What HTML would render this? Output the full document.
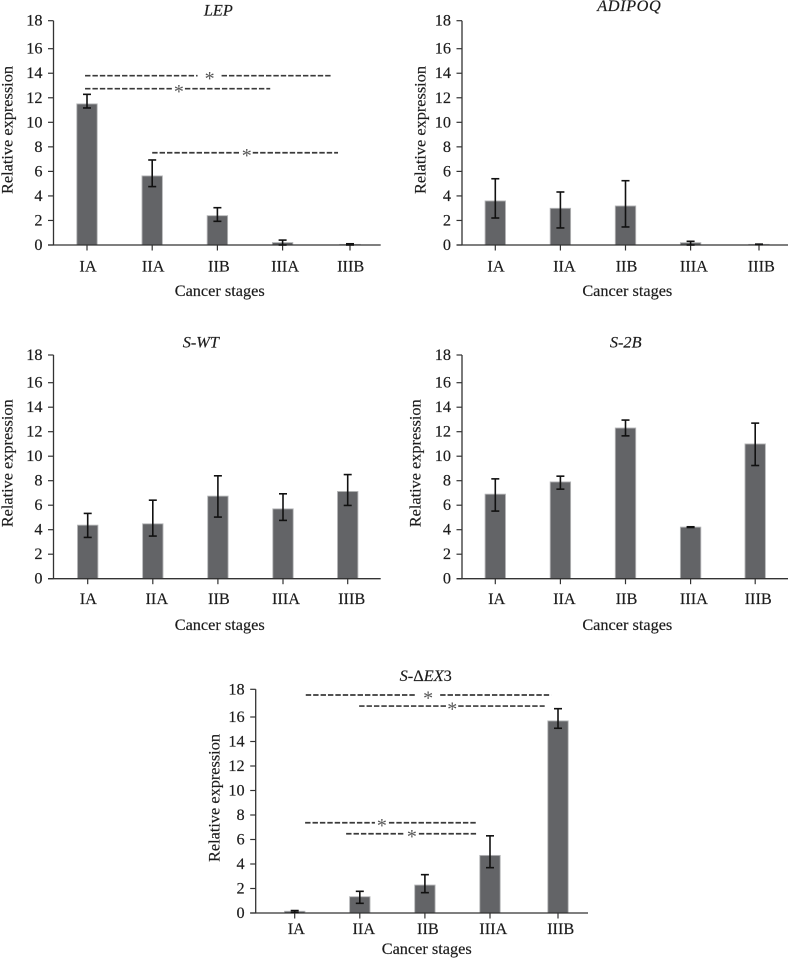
<!DOCTYPE html>
<html>
<head>
<meta charset="utf-8">
<title>Relative expression by cancer stage</title>
<style>
html,body{margin:0;padding:0;background:#fff;}
svg{display:block;}
text{font-family:"Liberation Serif",serif;fill:#1c1c1c;stroke:#1c1c1c;stroke-width:0.18px;font-size:16.3px;}
</style>
</head>
<body>
<svg id="figure" width="789" height="959" viewBox="0 0 789 959" xmlns="http://www.w3.org/2000/svg"></svg>
<script>
// Shared categories and ticks
const categories = ['IA', 'IIA', 'IIB', 'IIIA', 'IIIB'];
const yTicks = [0, 2, 4, 6, 8, 10, 12, 14, 16, 18];

// LEP
const lepValues = [11.5, 5.63, 2.39, 0.2, 0.05];
const lepUpper = [12.28, 6.93, 3.04, 0.4, 0.1];
const lepLower = [11.17, 4.76, 1.93, 0, 0];
const lepSigFrom = [-0.03, -0.03, 1.0];
const lepSigTo = [3.75, 2.81, 3.85];
const lepSigLevel = [13.8, 12.74, 7.52];
const lepSigStar = [1.88, 1.41, 2.45];

// ADIPOQ
const adipoqValues = [3.59, 2.99, 3.18, 0.19, 0.05];
const adipoqUpper = [5.4, 4.32, 5.24, 0.3, 0.07];
const adipoqLower = [2.2, 1.39, 1.47, 0, 0.03];

// S-WT
const swtValues = [4.37, 4.48, 6.74, 5.7, 7.12];
const swtUpper = [5.33, 6.41, 8.4, 6.93, 8.5];
const swtLower = [3.37, 3.48, 5.03, 4.76, 5.98];

// S-2B
const s2bValues = [6.9, 7.9, 12.3, 4.21, 11.0];
const s2bUpper = [8.15, 8.37, 12.95, 4.24, 12.7];
const s2bLower = [5.52, 7.31, 11.66, 4.18, 9.24];

// S-dEX3
const dex3Values = [0.14, 1.33, 2.28, 4.7, 15.68];
const dex3Upper = [0.2, 1.77, 3.13, 6.3, 16.6];
const dex3Lower = [0.05, 0.79, 1.66, 3.7, 15.08];
const dex3SigFrom = [0.17, 0.99, 0.16, 0.79];
const dex3SigTo = [3.94, 3.84, 2.80, 2.81];
const dex3SigLevel = [17.59, 16.79, 7.37, 6.47];
const dex3SigStar = [2.05, 2.42, 1.34, 1.80];

const NS = 'http://www.w3.org/2000/svg';
const fig = document.getElementById('figure');

function node(tag, attrs, parent) {
  const el = document.createElementNS(NS, tag);
  for (const k in attrs) el.setAttribute(k, attrs[k]);
  parent.appendChild(el);
  return el;
}

function line(x1, y1, x2, y2, stroke, width, parent) {
  return node('line', {x1: x1, y1: y1, x2: x2, y2: y2, stroke: stroke, 'stroke-width': width}, parent);
}

function drawPanel(p) {
  const g = node('g', {}, fig);
  
  

  // Axis functions: the source figure's 16-18 interval is taller than the others.
  const y = function (v) {
    if (v <= 16) return p.y0 + (p.y16 - p.y0) * v / 16;
    return p.y16 + (p.y18 - p.y16) * (v - 16) / 2;
  };
  const x = function (i) {
    return p.xStart + p.step * Math.min(i, 3) + (i > 3 ? p.lastStep : 0);
  };
  const sx = function (pos) { return p.xStart + p.step * pos; };

  // Title
  const title = node('text', {x: p.titleX, y: p.titleY, 'text-anchor': 'middle'}, g);
  
  
  if (p.titleSpacing) title.setAttribute('letter-spacing', p.titleSpacing);
  p.title.forEach(function (part) {
    const s = node('tspan', {'font-style': part[1] ? 'italic' : 'normal'}, title);
    s.textContent = part[0];
  });

  // Bars
  categories.forEach(function (cat, i) {
    const top = y(p.values[i]);
    const bar = node('rect', {x: x(i) - 10.2, y: top, width: 20.4, height: Math.max(p.y0 - top, 0), fill: '#636467', stroke: '#b4b5b7', 'stroke-width': 0.9}, g);
    
    
  });

  // Axes
  const yAxis = line(p.axisX, p.y18, p.axisX, p.y0, '#333', 1.3, g);
  
  
  const xAxis = line(p.axisX - 5.5, p.y0, p.axisEnd, p.y0, '#333', 1.3, g);
  
  

  yTicks.forEach(function (t) {
    const mark = line(p.axisX - 5.5, y(t), p.axisX, y(t), '#333', 1.2, g);
    
    
    const label = node('text', {x: p.axisX - 11, y: y(t) + 5, 'text-anchor': 'end'}, g);
    
    
    label.textContent = t;
  });

  categories.forEach(function (cat, i) {
    const mark = line(x(i), p.y0, x(i), p.y0 + 5.5, '#333', 1.2, g);
    
    
    const label = node('text', {x: x(i) + p.labelDx[i], y: p.y0 + p.labelGap, 'text-anchor': 'middle'}, g);
    
    
    label.textContent = cat;
  });

  // Error bars
  categories.forEach(function (cat, i) {
    const hi = y(p.upper[i]), lo = y(p.lower[i]);
    const err = node('g', {}, g);
    
    
    line(x(i), hi, x(i), lo, '#111', 1.6, err);
    line(x(i) - 4, hi, x(i) + 4, hi, '#111', 1.6, err);
    line(x(i) - 4, lo, x(i) + 4, lo, '#111', 1.6, err);
  });

  // Significance markers
  (p.sigFrom || []).forEach(function (from, i) {
    const level = y(p.sigLevel[i]);
    const star = sx(p.sigStar[i]);
    const gap = p.sigGap[i];
    const s = node('g', {}, g);
    
    
    const a = line(sx(from), level, star - gap, level, '#3a3a3a', 1.7, s);
    a.setAttribute('stroke-dasharray', '5.4 2');
    const b = line(star + gap, level, sx(p.sigTo[i]), level, '#3a3a3a', 1.7, s);
    b.setAttribute('stroke-dasharray', '5.4 2');
    const t = node('text', {x: star, y: level + 9.5, 'text-anchor': 'middle'}, s);
    t.setAttribute('style', 'font-size:20px;fill:#555;stroke:none');
    t.textContent = '*';
  });

  // Axis titles
  const xt = node('text', {x: p.xTitleX, y: p.xTitleY, 'text-anchor': 'middle'}, g);
  
  
  xt.textContent = 'Cancer stages';

  const yt = node('text', {transform: 'translate(' + p.yTitleX + ' ' + p.yTitleY + ') rotate(-90)', 'text-anchor': 'middle'}, g);
  
  
  yt.textContent = 'Relative expression';
}

drawPanel({
  name: 'lep', title: [['LEP', true]], titleX: 218.3, titleY: 15.3,
  values: lepValues, upper: lepUpper, lower: lepLower,
  sigFrom: lepSigFrom, sigTo: lepSigTo, sigLevel: lepSigLevel, sigStar: lepSigStar, sigGap: [12, 6, 6],
  axisX: 53.5, axisEnd: 380.7, y0: 245, y16: 48.7, y18: 20.7,
  xStart: 87, step: 65.2, lastStep: 67.4, labelDx: [1, 1, 1.5, 2.5, 0.7], labelGap: 26.7,
  xTitleX: 219.7, xTitleY: 296, yTitleX: 12.7, yTitleY: 130
});
drawPanel({
  name: 'adipoq', title: [['ADIPOQ', true]], titleX: 629.3, titleY: 11, titleSpacing: 0.6,
  values: adipoqValues, upper: adipoqUpper, lower: adipoqLower,
  axisX: 462, axisEnd: 788, y0: 245, y16: 48.7, y18: 20.7,
  xStart: 495.3, step: 65.1, lastStep: 68.4, labelDx: [0.7, 4, 1, 3.3, 2.3], labelGap: 26.7,
  xTitleX: 627.3, xTitleY: 296, yTitleX: 425.7, yTitleY: 130
});
drawPanel({
  name: 's-wt', title: [['S-WT', true]], titleX: 200.8, titleY: 347.7,
  values: swtValues, upper: swtUpper, lower: swtLower,
  axisX: 53.5, axisEnd: 380.7, y0: 578.7, y16: 382.7, y18: 355,
  xStart: 87.7, step: 65.1, lastStep: 64.7, labelDx: [0.6, 4, 1, 3, 4], labelGap: 25.3,
  xTitleX: 219.7, xTitleY: 630, yTitleX: 12.7, yTitleY: 463.3
});
drawPanel({
  name: 's-2b', title: [['S-2', true], ['B', true]], titleX: 625.7, titleY: 347.7,
  values: s2bValues, upper: s2bUpper, lower: s2bLower,
  axisX: 462, axisEnd: 788, y0: 578.7, y16: 382.7, y18: 355,
  xStart: 495.3, step: 65.1, lastStep: 64.6, labelDx: [1.4, 4, 1, 3.3, 3], labelGap: 25.3,
  xTitleX: 627.3, xTitleY: 630, yTitleX: 420.7, yTitleY: 463.3
});
drawPanel({
  name: 's-dex3', title: [['S-', true], ['\u0394', false], ['EX', true], ['3', false]], titleX: 425.7, titleY: 681,
  values: dex3Values, upper: dex3Upper, lower: dex3Lower,
  sigFrom: dex3SigFrom, sigTo: dex3SigTo, sigLevel: dex3SigLevel, sigStar: dex3SigStar, sigGap: [12, 6, 7, 7],
  axisX: 255.7, axisEnd: 588, y0: 913, y16: 717, y18: 689.3,
  xStart: 294.7, step: 65.1, lastStep: 68, labelDx: [1.6, 4, 3, 3.3, 2.7], labelGap: 21,
  xTitleX: 426.7, xTitleY: 954, yTitleX: 219.7, yTitleY: 798
});
</script>
</body>
</html>
